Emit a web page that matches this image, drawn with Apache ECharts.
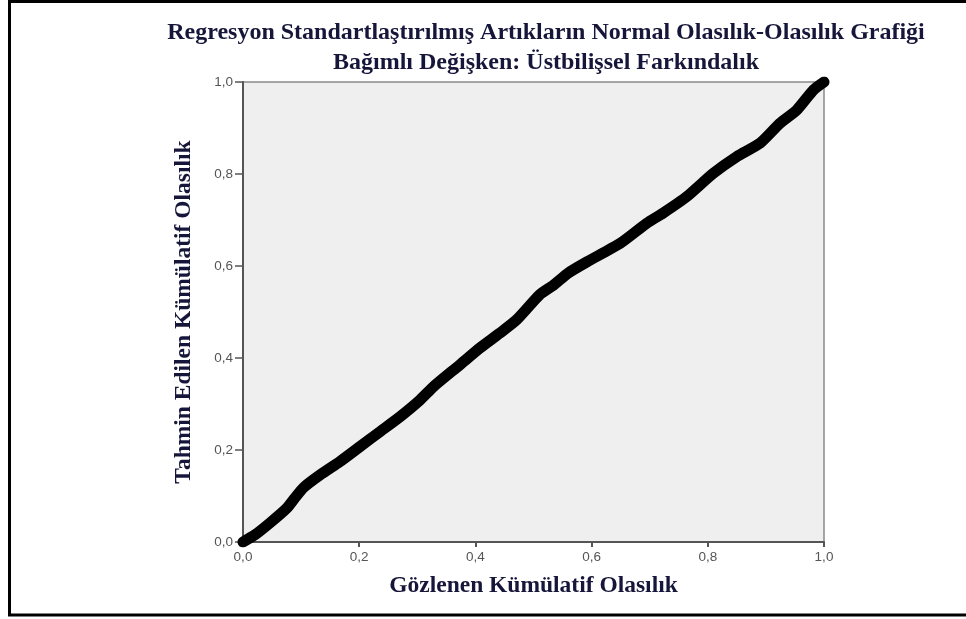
<!DOCTYPE html>
<html>
<head>
<meta charset="utf-8">
<script src="https://cdn.jsdelivr.net/npm/echarts@6/dist/echarts.min.js"></script>
<style>
html,body{margin:0;padding:0;background:#fff;}
#chart{width:966px;height:619px;}
</style>
</head>
<body>
<div id="chart"></div>
<script>
// Observed cumulative probability (x) and expected cumulative probability (y)
const observed = [0, 0.02, 0.046, 0.075, 0.09, 0.104, 0.133, 0.167, 0.201, 0.236, 0.27, 0.305, 0.328, 0.373, 0.408, 0.442, 0.471, 0.511, 0.534, 0.56, 0.592, 0.649, 0.695, 0.723, 0.764, 0.809, 0.85, 0.89, 0.924, 0.953, 0.982, 1];
const expected = [0, 0.015, 0.041, 0.073, 0.097, 0.118, 0.146, 0.175, 0.207, 0.24, 0.272, 0.309, 0.338, 0.385, 0.422, 0.454, 0.483, 0.538, 0.558, 0.585, 0.609, 0.649, 0.693, 0.715, 0.751, 0.801, 0.838, 0.867, 0.91, 0.939, 0.983, 1];
const titleLine1 = 'Regresyon Standartlaştırılmış Artıkların Normal Olasılık-Olasılık Grafiği';
const titleLine2 = 'Bağımlı Değişken: Üstbilişsel Farkındalık';
const xTitle = 'Gözlenen Kümülatif Olasılık';
const yTitle = 'Tahmin Edilen Kümülatif Olasılık';

const points = observed.map((x, i) => [x, expected[i]]);
const fmt = v => v.toFixed(1).replace('.', ',');
const titleColor = '#16163a';
const serif = '"Liberation Serif", "Times New Roman", serif';
const sans = 'Arial, "Liberation Sans", sans-serif';

const chart = echarts.init(document.getElementById('chart'));
chart.setOption({
  backgroundColor: '#fff',
  animation: false,
  grid: {
    left: 243, right: 142, top: 82, bottom: 77,
    show: true, backgroundColor: '#efefef', borderColor: '#8a8a8a', borderWidth: 1.5
  },
  xAxis: {
    type: 'value', min: 0, max: 1, interval: 0.2,
    name: xTitle, nameLocation: 'middle', nameGap: 32,
    nameTextStyle: { fontFamily: serif, fontWeight: 'bold', fontSize: 23.5, color: titleColor },
    axisLine: { show: true, onZero: false, lineStyle: { color: '#555', width: 2 } },
    axisTick: { show: true, length: 5, lineStyle: { color: '#555', width: 2 } },
    axisLabel: { formatter: fmt, fontFamily: sans, fontSize: 13.5, color: '#555', margin: 8 },
    splitLine: { show: false }
  },
  yAxis: {
    type: 'value', min: 0, max: 1, interval: 0.2,
    name: yTitle, nameLocation: 'middle', nameGap: 47, nameRotate: 90,
    nameTextStyle: { fontFamily: serif, fontWeight: 'bold', fontSize: 23.5, color: titleColor },
    axisLine: { show: true, onZero: false, lineStyle: { color: '#555', width: 2 } },
    axisTick: { show: true, length: 8, lineStyle: { color: '#555', width: 1.5 } },
    axisLabel: { formatter: fmt, fontFamily: sans, fontSize: 13.5, color: '#555', margin: 10 },
    splitLine: { show: false }
  },
  series: [{
    type: 'line',
    data: points,
    showSymbol: false,
    smooth: 0.2,
    lineStyle: { color: '#000', width: 11, cap: 'round', join: 'round' }
  }],
  graphic: [
    { type: 'rect', shape: { x: 9.5, y: 1.5, width: 1000, height: 613.5 }, style: { fill: 'none', stroke: '#000', lineWidth: 3 }, silent: true },
    { type: 'text', x: 546, y: 33, style: { text: titleLine1, textAlign: 'center', textVerticalAlign: 'middle', font: 'bold 24px ' + serif, fill: titleColor } },
    { type: 'text', x: 546, y: 63, style: { text: titleLine2, textAlign: 'center', textVerticalAlign: 'middle', font: 'bold 24px ' + serif, fill: titleColor } }
  ]
});
</script>
</body>
</html>
